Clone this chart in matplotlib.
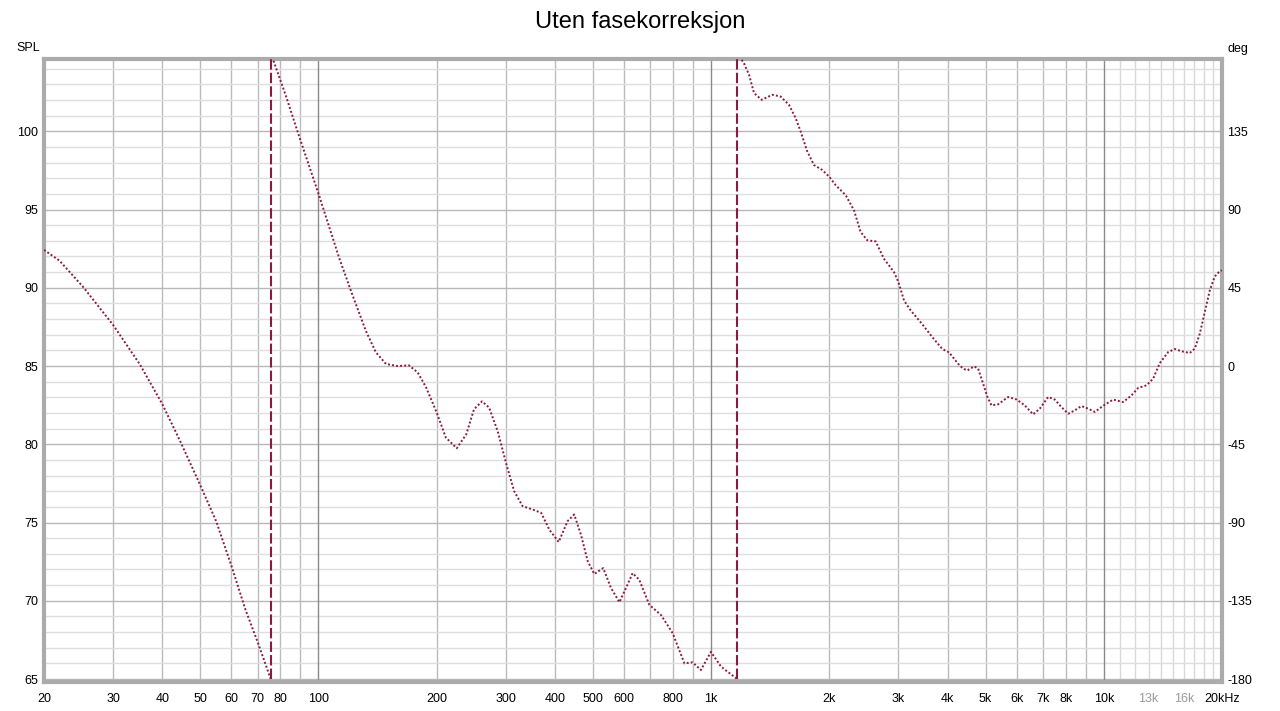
import numpy as np
import matplotlib
matplotlib.use('Agg')
import matplotlib.pyplot as plt
from matplotlib.ticker import NullLocator

plt.rcParams['font.family'] = ['Liberation Sans', 'DejaVu Sans']

title = "Uten fasekorreksjon"

# Phase response (wrapped, degrees)
freq_hz = [
    20, 21.9, 25.2, 30, 35.1, 40, 44.4, 50, 54.9, 60, 65.2, 70, 75.6,
    75.6, 82.5, 89.1, 100, 112.9, 122, 132, 140, 148.6, 159, 170, 179, 188,
    200, 211, 225, 238, 249, 261, 272, 286, 301, 315, 331, 351, 369, 387,
    409, 431, 448, 466, 485, 504, 531, 556, 584, 607, 631, 656, 696, 745,
    798, 855, 897, 942, 999, 1060, 1165,
    1165, 1213, 1249, 1286, 1345, 1432, 1503, 1579, 1642, 1691, 1758, 1828,
    1920, 2000, 2076, 2201, 2311, 2403, 2499, 2624, 2755, 2923, 3000, 3099,
    3222, 3417, 3659, 3880, 4035, 4256, 4383, 4495, 4675, 4786, 4929, 5055,
    5175, 5382, 5706, 6006, 6289, 6607, 6871, 7215, 7502, 7802, 8113, 8436,
    8772, 9122, 9486, 10000, 10563, 11201, 11763, 12231, 12845, 13354, 13887,
    14583, 15165, 15770, 16558, 17050, 17558, 18080, 18617, 19170, 19740, 20000,
]
phase_deg = [
    66.8, 60.6, 45.3, 23.6, 0.9, -21.8, -43.0, -68.5, -89.3, -114.8, -140.2, -158.7, -180.0,
    180.0, 155.8, 132.7, 99.2, 62.2, 41.0, 20.3, 7.9, 1.2, 0.0, 0.4, -3.7, -12.3,
    -26.7, -41.1, -47.3, -39.2, -24.8, -20.3, -23.9, -37.4, -56.5, -71.9, -80.6, -82.5, -84.4, -94.0,
    -101.2, -89.2, -85.4, -96.9, -112.3, -119.6, -116.2, -127.7, -135.8, -127.7, -119.1, -122.9, -137.3, -143.1,
    -153.6, -171.0, -170.4, -174.8, -164.4, -172.9, -180.0,
    180.0, 174.0, 167.5, 157.0, 153.1, 156.0, 155.0, 150.2, 142.5, 134.8, 123.3, 115.6,
    112.7, 108.8, 104.0, 98.3, 89.6, 77.1, 72.3, 71.7, 61.7, 54.0, 48.2, 37.7,
    32.0, 25.2, 16.6, 9.8, 7.9, 1.3, -1.5, -2.5, -0.2, -1.5, -10.2, -17.8,
    -22.6, -22.0, -17.8, -19.3, -22.6, -27.8, -24.5, -17.8, -19.3, -23.6, -27.4, -25.5,
    -23.0, -24.5, -26.4, -22.6, -19.3, -20.7, -16.9, -12.6, -11.1, -7.3, 1.7,
    8.0, 9.8, 8.5, 7.5, 10.0, 18.6, 31.0, 43.5, 51.5, 54.6, 55.0,
]

spl_ticks = [65, 70, 75, 80, 85, 90, 95, 100]
deg_ticks = [-180, -135, -90, -45, 0, 45, 90, 135]
x_tick_vals = [20, 30, 40, 50, 60, 70, 80, 100, 200, 300, 400, 500, 600, 800,
               1000, 2000, 3000, 4000, 5000, 6000, 7000, 8000, 10000, 13000, 16000, 20000]
x_tick_labels = ['20', '30', '40', '50', '60', '70', '80', '100', '200', '300', '400', '500',
                 '600', '800', '1k', '2k', '3k', '4k', '5k', '6k', '7k', '8k', '10k',
                 '13k', '16k', '20kHz']
grey_labels = ['13k', '16k']

W, H = 1280, 711
fig = plt.figure(figsize=(W / 100, H / 100), dpi=100)
ax = fig.add_axes([44 / W, 29 / H, 1178 / W, 623 / H])
ax.set_xscale('log')
ax.set_xlim(20, 20000)
spl_lo, spl_hi = 64.81, 104.62
ax.set_ylim(spl_lo, spl_hi)

# grid
ax.set_yticks(spl_ticks)
ax.set_yticks(np.arange(65, 105, 1), minor=True)
ax.yaxis.grid(True, which='minor', color='#dedede', lw=1.0, zorder=0)
ax.yaxis.grid(True, which='major', color='#b8b8b8', lw=1.0, zorder=0)
ax.set_axisbelow(True)
for dec in [10, 100, 1000]:
    for m in range(2, 10):
        v = m * dec
        if v <= 20:
            continue
        ax.axvline(v, color='#bcbcbc', lw=1.0, zorder=0.5)
for v in [100, 1000, 10000]:
    ax.axvline(v, color='#8a8a8a', lw=1.0, zorder=0.6)
for m in range(11, 20):
    ax.axvline(m * 1000, color='#d8d8d8', lw=1.0, zorder=0.5)

ax.set_xticks(x_tick_vals, x_tick_labels)
ax.xaxis.set_minor_locator(NullLocator())
for lab in ax.get_xticklabels():
    if lab.get_text() in grey_labels:
        lab.set_color('#9a9a9a')
ax.tick_params(axis='x', length=0, pad=8, labelsize=9)
ax.tick_params(axis='y', which='both', length=0, pad=4, labelsize=9)

for s in ax.spines.values():
    s.set_color('#ababab')
    s.set_linewidth(3)

ax2 = ax.twinx()
ax2.set_ylim(9 * spl_lo - 765, 9 * spl_hi - 765)
ax2.set_yticks(deg_ticks, [str(d) for d in deg_ticks])
ax2.tick_params(axis='y', length=0, pad=4, labelsize=9)
for s in ax2.spines.values():
    s.set_visible(False)

c = '#8c1a3c'
f = np.array(freq_hz, dtype=float)
p = np.array(phase_deg, dtype=float)
jumps = np.where(np.abs(np.diff(p)) > 300)[0]
starts = [0] + list(jumps + 1)
ends = list(jumps + 1) + [len(f)]
for s, e in zip(starts, ends):
    ax2.plot(f[s:e], p[s:e], color=c, lw=1.4, linestyle=(0, (1, 1.1)))
for j in jumps:
    ax2.plot([f[j], f[j + 1]], [p[j], p[j + 1]], color=c, lw=1.5, linestyle=(0, (5, 1.5)))

fig.text(16 / W, 1 - 48 / H, 'SPL', fontsize=9, va='center', ha='left')
fig.text(1228 / W, 1 - 49 / H, 'deg', fontsize=9, va='center', ha='left')
fig.text(0.5, 1 - 22 / H, title, fontsize=17, ha='center', va='center')

fig.savefig('out.png', dpi=100)
